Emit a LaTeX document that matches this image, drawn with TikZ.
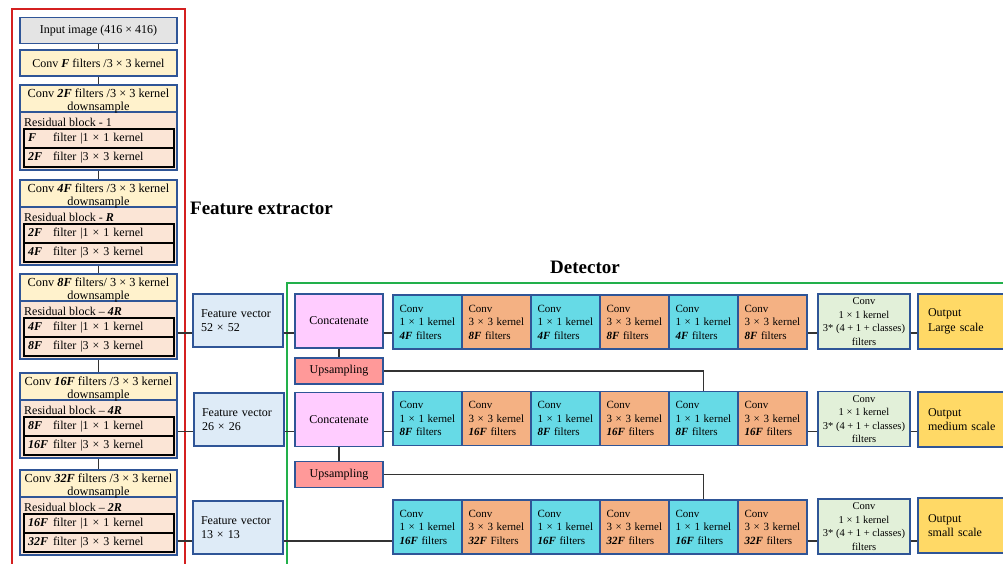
\documentclass[tikz,border=0pt]{standalone}
\usepackage{fontspec}
\setmainfont{Liberation Serif}

\definecolor{boxblue}{HTML}{2F5597}
\definecolor{inputgray}{HTML}{E4E4E4}
\definecolor{convyellow}{HTML}{FFF2CC}
\definecolor{respeach}{HTML}{FBE5D6}
\definecolor{fvblue}{HTML}{DEEBF7}
\definecolor{catpink}{HTML}{FFCCFF}
\definecolor{uppink}{HTML}{FF9999}
\definecolor{onecyan}{HTML}{66DAE6}
\definecolor{threeorange}{HTML}{F4B183}
\definecolor{headgreen}{HTML}{E2F0D9}
\definecolor{outyellow}{HTML}{FFD966}
\definecolor{framered}{HTML}{D42020}
\definecolor{framegreen}{HTML}{22B04B}
\definecolor{linegray}{HTML}{333333}

\newcommand{\bif}[1]{\textbf{\textit{#1}}}

\begin{document}
\begin{tikzpicture}[
x=1pt, y=-1pt,
every node/.style={
    font=\fontsize{12}{14.5}\selectfont,
    inner sep=0pt
},
box/.style={draw=boxblue, line width=1.3pt},
incol/.style={box, minimum width=157pt, minimum height=26pt},
dnbox/.style={box, fill=convyellow, minimum width=157pt, minimum height=27pt},
dntext/.style={align=center, yshift=-2pt, font=\fontsize{12.3}{13}\selectfont},
resbox/.style={box, fill=respeach, minimum width=157pt, minimum height=58pt},
restitle/.style={anchor=west},
resrow/.style={draw=black, line width=1.2pt, fill=respeach, minimum width=150pt, minimum height=19pt, text width=142pt, align=left, inner xsep=4pt},
fvec/.style={box, fill=fvblue, minimum width=90pt, minimum height=53pt, text width=74pt, align=left, inner xsep=8pt},
catbox/.style={box, fill=catpink, minimum width=88pt, minimum height=54pt},
upbox/.style={box, fill=uppink, minimum width=88pt, minimum height=26pt},
conva/.style={box, fill=onecyan, minimum width=69pt, minimum height=54pt, text width=56pt, align=left, inner xsep=6.5pt, font=\fontsize{11}{13.5}\selectfont},
convb/.style={conva, fill=threeorange},
headbox/.style={box, fill=headgreen, minimum width=92pt, minimum height=55pt, align=center, font=\fontsize{10.5}{13.5}\selectfont},
outbox/.style={box, fill=outyellow, minimum width=100pt, minimum height=55pt, text width=80pt, align=left, inner xsep=10pt},
title/.style={font=\fontsize{19}{22}\selectfont\bfseries},
link/.style={draw=linegray, line width=1.6pt}
]
\useasboundingbox (0,0) rectangle (1003,564);

%---------------- Frames ----------------
\draw[framered, line width=2pt] (12,9) rectangle (185,600);
\draw[framegreen, line width=2pt] (287,283) rectangle (1030,600);

\node[title, anchor=west] (fext) at (190,208) {Feature extractor};
\node[title] (dett) at (585,267) {Detector};

%---------------- Feature extractor ----------------
\node[incol, fill=inputgray] (img) at (98.5,30.5) {Input image (416 × 416)};
\node[incol, fill=convyellow] (cf) at (98.5,63) {Conv \bif{F} filters /3 × 3 kernel};

\begin{scope}[shift={(0,85)}]
\node[dnbox] (d1) at (98.5,13.5) {};
\node[resbox] (res1) at (98.5,56) {};
\node[dntext] (d1t) at (d1) {Conv \bif{2F} filters /3 × 3 kernel\\downsample};
\node[restitle] (t1) at (24,37) {Residual block - 1};
\node[resrow] (r1a) at (99,53.5) {\makebox[25pt][l]{\bif{F}}filter |1 × 1 kernel};
\node[resrow] (r1b) at (99,72.5) {\makebox[25pt][l]{\bif{2F}}filter |3 × 3 kernel};
\end{scope}

\begin{scope}[shift={(0,180)}]
\node[dnbox] (d2) at (98.5,13.5) {};
\node[resbox] (res2) at (98.5,56) {};
\node[dntext] (d2t) at (d2) {Conv \bif{4F} filters /3 × 3 kernel\\downsample};
\node[restitle] (t2) at (24,37) {Residual block - \bif{R}};
\node[resrow] (r2a) at (99,53.5) {\makebox[25pt][l]{\bif{2F}}filter |1 × 1 kernel};
\node[resrow] (r2b) at (99,72.5) {\makebox[25pt][l]{\bif{4F}}filter |3 × 3 kernel};
\end{scope}

\begin{scope}[shift={(0,274)}]
\node[dnbox] (d3) at (98.5,13.5) {};
\node[resbox] (res3) at (98.5,56) {};
\node[dntext] (d3t) at (d3) {Conv \bif{8F} filters/ 3 × 3 kernel\\downsample};
\node[restitle] (t3) at (24,37) {Residual block – \bif{4R}};
\node[resrow] (r3a) at (99,53.5) {\makebox[25pt][l]{\bif{4F}}filter |1 × 1 kernel};
\node[resrow] (r3b) at (99,72.5) {\makebox[25pt][l]{\bif{8F}}filter |3 × 3 kernel};
\end{scope}

\begin{scope}[shift={(0,373)}]
\node[dnbox] (d4) at (98.5,13.5) {};
\node[resbox] (res4) at (98.5,56) {};
\node[dntext] (d4t) at (d4) {Conv \bif{16F} filters /3 × 3 kernel\\downsample};
\node[restitle] (t4) at (24,37) {Residual block – \bif{4R}};
\node[resrow] (r4a) at (99,53.5) {\makebox[25pt][l]{\bif{8F}}filter |1 × 1 kernel};
\node[resrow] (r4b) at (99,72.5) {\makebox[25pt][l]{\bif{16F}}filter |3 × 3 kernel};
\end{scope}

\begin{scope}[shift={(0,470)}]
\node[dnbox] (d5) at (98.5,13.5) {};
\node[resbox] (res5) at (98.5,56) {};
\node[dntext] (d5t) at (d5) {Conv \bif{32F} filters /3 × 3 kernel\\downsample};
\node[restitle] (t5) at (24,37) {Residual block – \bif{2R}};
\node[resrow] (r5a) at (99,53.5) {\makebox[25pt][l]{\bif{16F}}filter |1 × 1 kernel};
\node[resrow] (r5b) at (99,72.5) {\makebox[25pt][l]{\bif{32F}}filter |3 × 3 kernel};
\end{scope}

\draw[link] (img) -- (cf);
\draw[link] (cf) -- (d1);
\draw[link] (res1) -- (d2);
\draw[link] (res2) -- (d3);
\draw[link] (res3) -- (d4);
\draw[link] (res4) -- (d5);

%---------------- Feature vectors ----------------
\node[fvec] (fv1) at (238,320.5) {Feature vector\\52 × 52};
\node[fvec] (fv2) at (239,419.5) {Feature vector\\26 × 26};
\node[fvec] (fv3) at (238,527.5) {Feature vector\\13 × 13};

%---------------- Detector ----------------
\node[catbox] (cat1) at (339,321) {Concatenate};
\node[upbox] (up1) at (339,371) {Upsampling};
\node[catbox] (cat2) at (339,419.5) {Concatenate};
\node[upbox] (up2) at (339,474.5) {Upsampling};

% large scale
\node[conva] (c11) at (427.5,322) {Conv\\1 × 1 kernel\\\bif{4F} filters};
\node[convb] (c12) at (496.5,322) {Conv\\3 × 3 kernel\\\bif{8F} filters};
\node[conva] (c13) at (565.5,322) {Conv\\1 × 1 kernel\\\bif{4F} filters};
\node[convb] (c14) at (634.5,322) {Conv\\3 × 3 kernel\\\bif{8F} filters};
\node[conva] (c15) at (703.5,322) {Conv\\1 × 1 kernel\\\bif{4F} filters};
\node[convb] (c16) at (772.5,322) {Conv\\3 × 3 kernel\\\bif{8F} filters};
\node[headbox] (hd1) at (864,321.5) {Conv\\1 × 1 kernel\\3* (4 + 1 + classes)\\filters};
\node[outbox] (out1) at (968,321.5) {Output\\Large scale};

% medium scale
\node[conva] (c21) at (427.5,418.5) {Conv\\1 × 1 kernel\\\bif{8F} filters};
\node[convb] (c22) at (496.5,418.5) {Conv\\3 × 3 kernel\\\bif{16F} filters};
\node[conva] (c23) at (565.5,418.5) {Conv\\1 × 1 kernel\\\bif{8F} filters};
\node[convb] (c24) at (634.5,418.5) {Conv\\3 × 3 kernel\\\bif{16F} filters};
\node[conva] (c25) at (703.5,418.5) {Conv\\1 × 1 kernel\\\bif{8F} filters};
\node[convb] (c26) at (772.5,418.5) {Conv\\3 × 3 kernel\\\bif{16F} filters};
\node[headbox] (hd2) at (864,419) {Conv\\1 × 1 kernel\\3* (4 + 1 + classes)\\filters};
\node[outbox] (out2) at (968,419.5) {Output\\medium scale};

% small scale
\node[conva] (c31) at (427.5,527) {Conv\\1 × 1 kernel\\\bif{16F} filters};
\node[convb] (c32) at (496.5,527) {Conv\\3 × 3 kernel\\\bif{32F} Filters};
\node[conva] (c33) at (565.5,527) {Conv\\1 × 1 kernel\\\bif{16F} filters};
\node[convb] (c34) at (634.5,527) {Conv\\3 × 3 kernel\\\bif{32F} filters};
\node[conva] (c35) at (703.5,527) {Conv\\1 × 1 kernel\\\bif{16F} filters};
\node[convb] (c36) at (772.5,527) {Conv\\3 × 3 kernel\\\bif{32F} filters};
\node[headbox] (hd3) at (864,526.5) {Conv\\1 × 1 kernel\\3* (4 + 1 + classes)\\filters};
\node[outbox] (out3) at (968,525.5) {Output\\small scale};

%---------------- Links ----------------
\coordinate (h1) at (0,333);
\coordinate (h2) at (0,431.5);
\coordinate (h3) at (0,541);

\draw[link] (res3.east |- h1) -- (fv1.west |- h1);
\draw[link] (fv1.east |- h1) -- (cat1.west |- h1);
\draw[link] (cat1.east |- h1) -- (c11.west |- h1);
\draw[link] (c16.east |- h1) -- (hd1.west |- h1);
\draw[link] (hd1.east |- h1) -- (out1.west |- h1);

\draw[link] (res4.east |- h2) -- (fv2.west |- h2);
\draw[link] (fv2.east |- h2) -- (cat2.west |- h2);
\draw[link] (cat2.east |- h2) -- (c21.west |- h2);
\draw[link] (c26.east |- h2) -- (hd2.west |- h2);
\draw[link] (hd2.east |- h2) -- (out2.west |- h2);

\draw[link] (res5.east |- h3) -- (fv3.west |- h3);
\draw[link] (fv3.east |- h3) -- (c31.west |- h3);
\draw[link] (c36.east |- h3) -- (hd3.west |- h3);
\draw[link] (hd3.east |- h3) -- (out3.west |- h3);

\draw[link] (cat1) -- (up1);
\draw[link] (cat2) -- (up2);
\draw[link] (up1) -| (c25);
\draw[link] (up2) -| (c35);

\end{tikzpicture}
\end{document}
